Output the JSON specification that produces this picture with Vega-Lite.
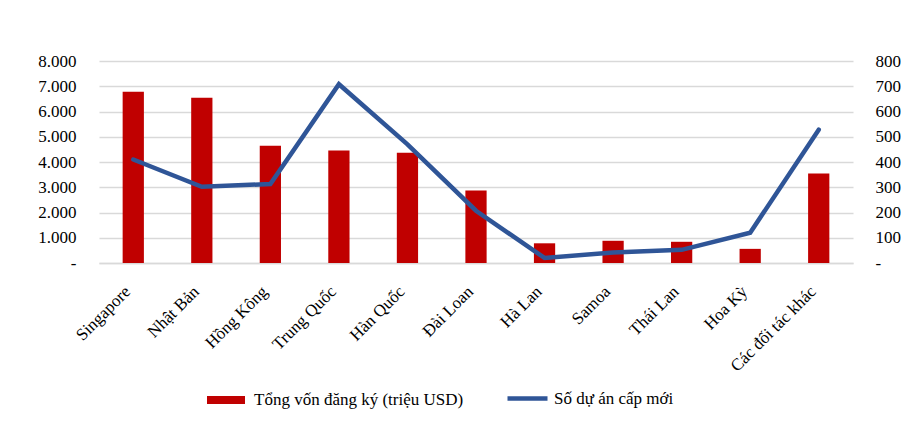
{
  "$schema": "https://vega.github.io/schema/vega-lite/v6.json",
  "width": 754,
  "height": 202,
  "autosize": {"type": "none"},
  "padding": {"left": 99, "top": 61, "right": 63, "bottom": 165},
  "background": "white",
  "config": {
    "font": "Liberation Serif",
    "view": {"stroke": null},
    "axis": {"labelFont": "Liberation Serif", "labelFontSize": 17, "labelColor": "black"},
    "legend": {"labelFont": "Liberation Serif", "labelFontSize": 17, "labelColor": "black", "labelLimit": 400, "orient": "none", "direction": "horizontal", "title": null}
  },
  "data": {
    "values": [
      {"country": "Singapore", "von": 6780, "duan": 410},
      {"country": "Nhật Bản", "von": 6540, "duan": 302},
      {"country": "Hồng Kông", "von": 4640, "duan": 313},
      {"country": "Trung Quốc", "von": 4460, "duan": 708},
      {"country": "Hàn Quốc", "von": 4370, "duan": 470},
      {"country": "Đài Loan", "von": 2870, "duan": 207},
      {"country": "Hà Lan", "von": 780, "duan": 20},
      {"country": "Samoa", "von": 880, "duan": 42},
      {"country": "Thái Lan", "von": 840, "duan": 52},
      {"country": "Hoa Kỳ", "von": 560, "duan": 120},
      {"country": "Các đối tác khác", "von": 3540, "duan": 528}
    ]
  },
  "encoding": {
    "x": {
      "field": "country", "type": "nominal", "sort": null,
      "scale": {"paddingInner": 0, "paddingOuter": 0},
      "axis": {"title": null, "labelAngle": -45, "labelAlign": "right", "labelBaseline": "top", "ticks": false, "domainColor": "#d9d9d9", "domainWidth": 1.5, "labelPadding": 20, "labelOffset": -11}
    }
  },
  "layer": [
    {
      "mark": {"type": "bar", "width": {"band": 0.31}},
      "encoding": {
        "y": {
          "field": "von", "type": "quantitative",
          "scale": {"domain": [0, 8000], "nice": false},
          "axis": {"title": null, "values": [0, 1000, 2000, 3000, 4000, 5000, 6000, 7000, 8000], "ticks": false, "domain": false, "gridColor": "#d9d9d9", "gridWidth": 1.3, "labelPadding": 23,
            "labelExpr": "datum.value == 0 ? '-' : replace(format(datum.value, ','), ',', '.')"}
        },
        "fill": {
          "datum": "Tổng vốn đăng ký (triệu USD)",
          "scale": {"range": ["#C00000"]},
          "legend": {"legendX": 108, "legendY": 320, "symbolType": "M-1,-0.21H1V0.21H-1Z", "symbolSize": 1444, "symbolStrokeWidth": 0, "labelOffset": 9}
        }
      }
    },
    {
      "mark": {"type": "line", "strokeWidth": 4.5, "strokeCap": "round"},
      "encoding": {
        "y": {
          "field": "duan", "type": "quantitative",
          "scale": {"domain": [0, 800], "nice": false},
          "axis": {"title": null, "orient": "right", "values": [0, 100, 200, 300, 400, 500, 600, 700, 800], "grid": false, "ticks": false, "domain": false, "labelPadding": 22,
            "labelExpr": "datum.value == 0 ? '-' : format(datum.value, 'd')"}
        },
        "stroke": {
          "datum": "Số dự án cấp mới",
          "scale": {"range": ["#2F5597"]},
          "legend": {"legendX": 406, "legendY": 315, "symbolType": "stroke", "symbolSize": 1600, "symbolStrokeWidth": 4.5, "labelOffset": 4}
        }
      }
    }
  ],
  "resolve": {"scale": {"y": "independent"}}
}
